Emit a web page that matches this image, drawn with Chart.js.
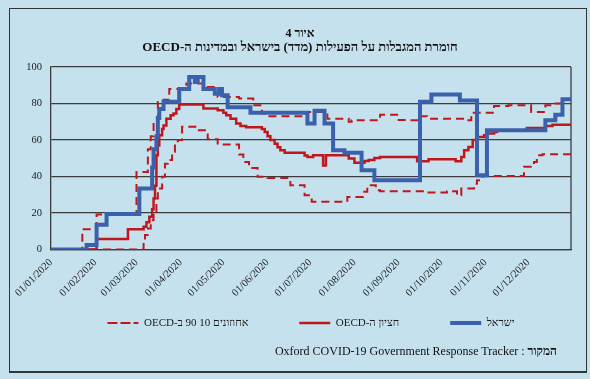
<!DOCTYPE html>
<html lang="he">
<head>
<meta charset="utf-8">
<script src="https://cdn.jsdelivr.net/npm/chart.js@4/dist/chart.umd.min.js"></script>
<style>
  html, body { margin: 0; padding: 0; }
  body { width: 590px; height: 379px; background: #c5e1ed; overflow: hidden; }
  #wrap { position: relative; width: 590px; height: 379px; }
  #chart_canvas { position: absolute; left: 0; top: 0; }
  .frame { position: absolute; left: 9px; top: 8px; width: 576px; height: 362px;
           border: 1px solid #333; border-bottom-width: 2px; }
  .title { position: absolute; left: 0; width: 600px; text-align: center; direction: rtl;
           font-family: "Liberation Serif", serif; font-weight: bold; color: #111; line-height: 14px; }
  #title1 { top: 26px; font-size: 12px; }
  #title2 { top: 40px; font-size: 13px; }
  #source { position: absolute; right: 33px; top: 344px; line-height: 14px;
            font-family: "Liberation Serif", serif; font-size: 12px; color: #111; white-space: nowrap; }
</style>
</head>
<body>
<div id="wrap">
  <div class="frame"></div>
  <canvas id="chart_canvas" width="590" height="379"></canvas>
  <div class="title" id="title1" dir="rtl">איור 4</div>
  <div class="title" id="title2" dir="rtl">חומרת המגבלות על הפעילות (מדד) בישראל ובמדינות ה-OECD</div>
  <div id="source" dir="rtl"><b>המקור</b> : Oxford COVID-19 Government Response Tracker</div>
</div>
<script>
// x = day of 2020 (0 = 01/01), values are read at each change point
const monthDays = [0, 31, 60, 91, 121, 152, 182, 213, 244, 274, 305, 335];
const monthLabels = ["01/01/2020", "01/02/2020", "01/03/2020", "01/04/2020", "01/05/2020", "01/06/2020",
                     "01/07/2020", "01/08/2020", "01/09/2020", "01/10/2020", "01/11/2020", "01/12/2020"];

const israelDays   = [0, 25, 32, 39, 62, 71, 72, 74, 75, 76, 79, 90, 97, 101, 103, 107, 115, 118, 120, 124,
                      140, 180, 185, 192, 198, 206, 218, 227, 259, 267, 287, 299, 306, 347, 354, 359, 365];
const israelValues = [0, 2.5, 13.5, 19.4, 33.4, 45, 55, 62, 72, 77, 81, 88, 94.5, 91.8, 94.5, 88, 85.4, 88, 84.5, 78,
                      75, 69, 76, 69, 54.4, 53, 43.4, 38, 81, 85, 81.7, 40.7, 65.3, 70.8, 73.9, 82.3, 82.3];

const medianDays   = [0, 32, 54, 65, 67, 69, 71, 72, 73, 74, 75, 76, 78, 79, 81, 84, 86, 88, 90, 107,
                      117, 121, 123, 126, 130, 133, 137, 148, 150, 152, 154, 157, 159, 161, 164, 178, 180, 184, 191, 193,
                      209, 213, 220, 223, 227, 231, 257, 265, 284, 288, 290, 293, 296, 299, 304, 306, 311, 313, 334, 347,
                      352, 365];
const medianValues = [0, 5.7, 11.1, 12.5, 15, 18, 22, 28, 35, 51.6, 57, 62.6, 66, 68, 71.7, 73.5, 74.5, 77, 79.4, 77.2,
                      76.3, 75, 73.5, 71.7, 69, 67.7, 67, 66, 64.4, 62, 60, 58, 56, 54.4, 53, 51.5, 50.7, 51.6, 46, 51.6,
                      49.8, 47.6, 48.5, 49, 50.2, 50.7, 48.4, 49.5, 48.4, 50.7, 54.4, 56.2, 60, 61.7, 62.6, 63.5, 64.4, 65.3, 66.6, 67.7,
                      68.4, 68.4];

const p90Days   = [0, 22, 32, 60, 68, 70, 72, 75, 79, 83, 95, 107, 115, 117, 132, 142, 148, 151, 180, 194,
                   209, 211, 231, 244, 252, 259, 264, 291, 295, 311, 321, 337, 347, 352, 360, 365];
const p90Values = [0, 11.1, 19.2, 42.5, 55, 62, 70, 80.8, 82, 88, 90.9, 89, 85.4, 83.6, 82.7, 79, 74.5, 73, 75.4, 71.7,
                   70, 70.8, 73.9, 71, 70.8, 73, 71.7, 70.8, 75, 78.6, 79, 75.4, 79, 80, 82.3, 82.3];

const p10Days   = [0, 65, 66, 68, 70, 72, 74, 75, 78, 80, 82, 85, 87, 89, 92, 103, 110, 117, 132, 135,
                   139, 145, 152, 168, 178, 183, 208, 219, 222, 228, 231, 261, 278, 285, 288, 297, 299, 303, 332, 339,
                   341, 345, 365];
const p10Values = [0, 5, 8, 11.5, 16, 20.6, 28, 33.4, 39.8, 47, 49, 53.5, 57, 60, 67.2, 65.3, 60.4, 57.5, 52, 48,
                   44.7, 39.8, 39.2, 35.2, 29.7, 26.1, 28.8, 31.6, 35.2, 32.5, 31.9, 31.2, 31.9, 29.7, 33.4, 36, 38, 40.3, 45.3, 48,
                   51.6, 52.2, 52.2];

const seriesNames = ["ישראל", "חציון ה-OECD", "אחוזונים 10 90 ב-OECD", "אחוזון 10"];

const blue = "#3b61ad";
const red = "#c0171d";
const gridColor = "#3c3c3c";
const textColor = "#1a1a1a";
const serif = "'Liberation Serif', 'Times New Roman', serif";

function points(days, values)
{
  return days.map((d, i) => ({x: d, y: values[i]}));
}

function lineSet(label, days, values, color, width, dash)
{
  return {
    label: label,
    data: points(days, values),
    borderColor: color,
    backgroundColor: color,
    borderWidth: width,
    borderDash: dash,
    stepped: true,
    pointRadius: 0,
    fill: false
  };
}

// right edge of the plot box
const plotBorder =
{
  id: "plotBorder",
  beforeDatasetsDraw(chart)
  {
    const {ctx, chartArea: a} = chart;
    ctx.save();
    ctx.strokeStyle = gridColor;
    ctx.lineWidth = 1.3;
    ctx.beginPath();
    ctx.moveTo(a.right, a.top);
    ctx.lineTo(a.right, a.bottom);
    ctx.stroke();
    ctx.restore();
  }
};

// the wide item padding also pushes the legend down, pull it back up
const legendShift =
{
  id: "legendShift",
  afterLayout(chart)
  {
    chart.legend.top -= 38;
    chart.legend.bottom -= 38;
  }
};

const config =
{
  type: "line",
  data: {
    datasets: [
      lineSet(seriesNames[0], israelDays, israelValues, blue, 4, []),
      lineSet(seriesNames[1], medianDays, medianValues, red, 2.5, []),
      lineSet(seriesNames[2], p90Days, p90Values, red, 2, [8, 5]),
      lineSet(seriesNames[3], p10Days, p10Values, red, 2, [8, 5])
    ]
  },
  options: {
    responsive: false,
    animation: false,
    devicePixelRatio: 1,
    layout: {padding: {left: 0, right: 19, top: 67, bottom: 2.5}},
    plugins: {
      tooltip: {enabled: false},
      title: {display: false},
      legend: {
        position: "bottom",
        fullSize: false,
        reverse: true,
        textDirection: "rtl",
        labels: {
          boxWidth: 31,
          boxHeight: 0,
          padding: 51,
          color: textColor,
          font: {family: serif, size: 11},
          filter: (item) => item.datasetIndex !== 3
        }
      }
    },
    scales: {
      x: {
        type: "linear",
        min: 0,
        max: 365,
        afterBuildTicks: (scale) => { scale.ticks = monthDays.map(v => ({value: v})); },
        afterFit: (scale) => { scale.height = 55; },
        grid: {display: false, drawTicks: false},
        border: {color: gridColor, width: 1.3},
        ticks: {
          autoSkip: false,
          minRotation: 45,
          maxRotation: 45,
          padding: 7,
          color: textColor,
          font: {family: serif, size: 10.5},
          callback: (v) => monthLabels[monthDays.indexOf(v)]
        }
      },
      y: {
        min: 0,
        max: 100,
        afterFit: (scale) => { scale.width = 51; },
        grid: {color: gridColor, lineWidth: 1.3, drawTicks: false},
        border: {color: gridColor, width: 1.3},
        ticks: {stepSize: 20, padding: 9, color: textColor, font: {family: serif, size: 10.5}}
      }
    }
  },
  plugins: [plotBorder, legendShift]
};

new Chart(document.getElementById("chart_canvas"), config);
</script>
</body>
</html>
